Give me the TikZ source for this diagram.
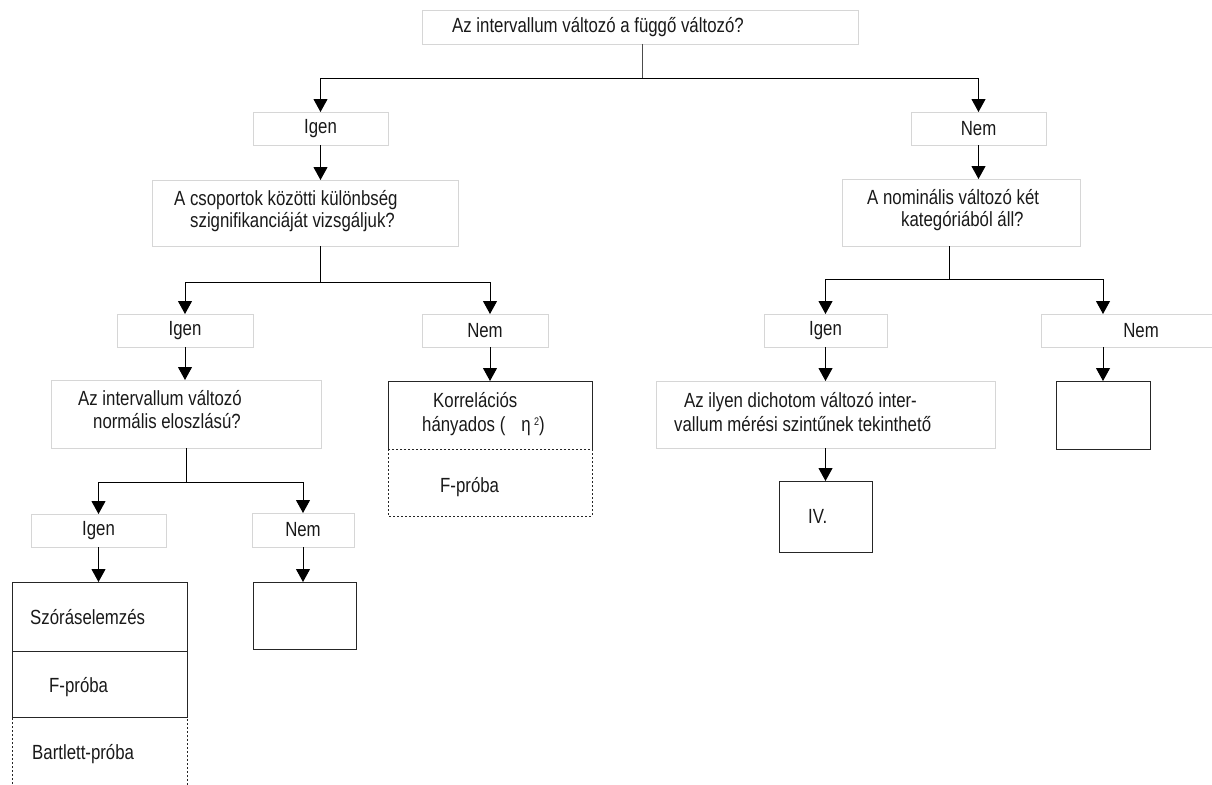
\documentclass[tikz,border=0pt]{standalone}
\usepackage{fontspec}
\setmainfont{Liberation Sans}[FakeStretch=0.82]
\usetikzlibrary{arrows.meta}

\begin{document}
\begin{tikzpicture}[x=1pt,y=-1pt,
  every node/.style={font=\fontsize{20.5}{23}\selectfont, text=black!90},
  gbox/.style={draw=black!16, line width=0.9pt, inner sep=0pt, outer sep=0pt, anchor=north west},
  kbox/.style={draw=black!85, line width=1pt, inner sep=0pt, outer sep=0pt, anchor=north west},
  hbox/.style={inner sep=0pt, outer sep=0pt, anchor=north west},
  dline/.style={draw=black!85, line width=0.9pt, dash pattern=on 2pt off 2pt},
  sline/.style={draw=black!85, line width=1pt},
  txt/.style={anchor=base west, inner sep=0pt},
  ln/.style={line width=1pt, black},
  arr/.style={line width=1pt, black, -{Triangle[width=14pt,length=13pt]}}
]
\useasboundingbox (0,0) rectangle (1212,784);

% question boxes (light frames)
\node[gbox, minimum width=436, minimum height=34] (top) at (422,10) {};
\node[gbox, minimum width=306, minimum height=66] (q1) at (152,180) {};
\node[gbox, minimum width=238, minimum height=67] (q2) at (842,179) {};
\node[gbox, minimum width=270, minimum height=68] (q3) at (51,380) {};
\node[gbox, minimum width=339, minimum height=67] (q4) at (656,381) {};

% answer boxes
\node[gbox, minimum width=135, minimum height=33] (i2) at (253,112) {Igen};
\node[gbox, minimum width=135, minimum height=33] (n2) at (911,112) {Nem};
\node[gbox, minimum width=136, minimum height=33] (i3) at (117,314) {Igen};
\node[gbox, minimum width=126, minimum height=33] (n3) at (422,314) {Nem};
\node[gbox, minimum width=123, minimum height=33] (ri3) at (764,314) {Igen};
\node[gbox, minimum width=200, minimum height=33] (rn3) at (1041,314) {Nem};
\node[gbox, minimum width=135, minimum height=33] (i4) at (31,514) {Igen};
\node[gbox, minimum width=102, minimum height=34] (n4) at (252,513) {Nem};

% result boxes
\node[hbox, minimum width=204, minimum height=68] (kor) at (388,381) {};
\draw[sline] (kor.south west) -- (kor.north west) -- (kor.north east) -- (kor.south east);
\node[hbox, minimum width=204, minimum height=67] (kf) at (388,449) {};
\draw[dline] (kf.north west) rectangle (kf.south east);
\node[kbox, minimum width=94, minimum height=68] (e2) at (1056,381) {};
\node[kbox, minimum width=93, minimum height=71] (iv) at (779,481) {};
\node[kbox, minimum width=175, minimum height=69] (sz) at (12,582) {};
\node[kbox, minimum width=175, minimum height=66] (fp) at (12,651) {};
\node[hbox, minimum width=175, minimum height=75] (bart) at (12,717) {};
\draw[dline] (bart.south west) -- (bart.north west) -- (bart.north east) -- (bart.south east);
\node[kbox, minimum width=103, minimum height=67] (e1) at (253,582) {};

% texts
\node[txt] (t-top) at (452,33) {Az intervallum változó a függő változó?};
\node[txt] (t-q1a) at (174,205) {A csoportok közötti különbség};
\node[txt] (t-q1b) at (190,227) {szignifikanciáját vizsgáljuk?};
\node[txt] (t-q2a) at (867,204) {A nominális változó két};
\node[txt] (t-q2b) at (901,226) {kategóriából áll?};
\node[txt] (t-q3a) at (78,405) {Az intervallum változó};
\node[txt] (t-q3b) at (93,428) {normális eloszlású?};
\node[txt] (t-q4a) at (684,407) {Az ilyen dichotom változó inter-};
\node[txt] (t-q4b) at (674,431) {vallum mérési szintűnek tekinthető};
\node[txt] (t-kor1) at (433,407) {Korrelációs};
\node[txt] (t-kor2) at (422,431) {hányados (\hspace{16pt}η\,\raisebox{6pt}{\fontsize{11}{11}\selectfont 2})};
\node[txt] (t-kf) at (440,492) {F-próba};
\node[txt] (t-sz) at (30,624) {Szóráselemzés};
\node[txt] (t-fp) at (49,692) {F-próba};
\node[txt] (t-bart) at (32,759) {Bartlett-próba};
\node[txt] (t-iv) at (808,523) {IV.};

% connectors
\coordinate (j1) at (642,78);
\draw[line width=0.9pt, black!70] (top.south -| j1) -- (j1);
\draw[arr] (j1) -| (i2.north);
\draw[arr] (j1) -| (n2.north);

\draw[arr] (i2.south) -- (i2.south |- q1.north);
\coordinate (j2) at (320,282);
\draw[ln] (j2 |- q1.south) -- (j2);
\draw[arr] (j2) -| (i3.north);
\draw[arr] (j2) -| (kor.north |- n3.north);
\draw[arr] (kor.north |- n3.south) -- (kor.north);

\draw[arr] (i3.south) -- (i3.south |- q3.north);
\coordinate (j3) at (186,482);
\draw[ln] (j3 |- q3.south) -- (j3);
\draw[arr] (j3) -| (i4.north);
\draw[arr] (j3) -| (n4.north);
\draw[arr] (i4.south) -- (i4.south |- sz.north);
\draw[arr] (n4.south) -- (n4.south |- e1.north);

\draw[arr] (n2.south) -- (n2.south |- q2.north);
\coordinate (j4) at (949,279);
\draw[ln] (j4 |- q2.south) -- (j4);
\draw[arr] (j4) -| (ri3.north);
\draw[arr] (j4) -| (e2.north |- rn3.north);
\draw[arr] (ri3.south) -- (ri3.south |- q4.north);
\draw[arr] (q4.south -| ri3.south) -- (iv.north -| ri3.south);
\draw[arr] (e2.north |- rn3.south) -- (e2.north);
\end{tikzpicture}
\end{document}
